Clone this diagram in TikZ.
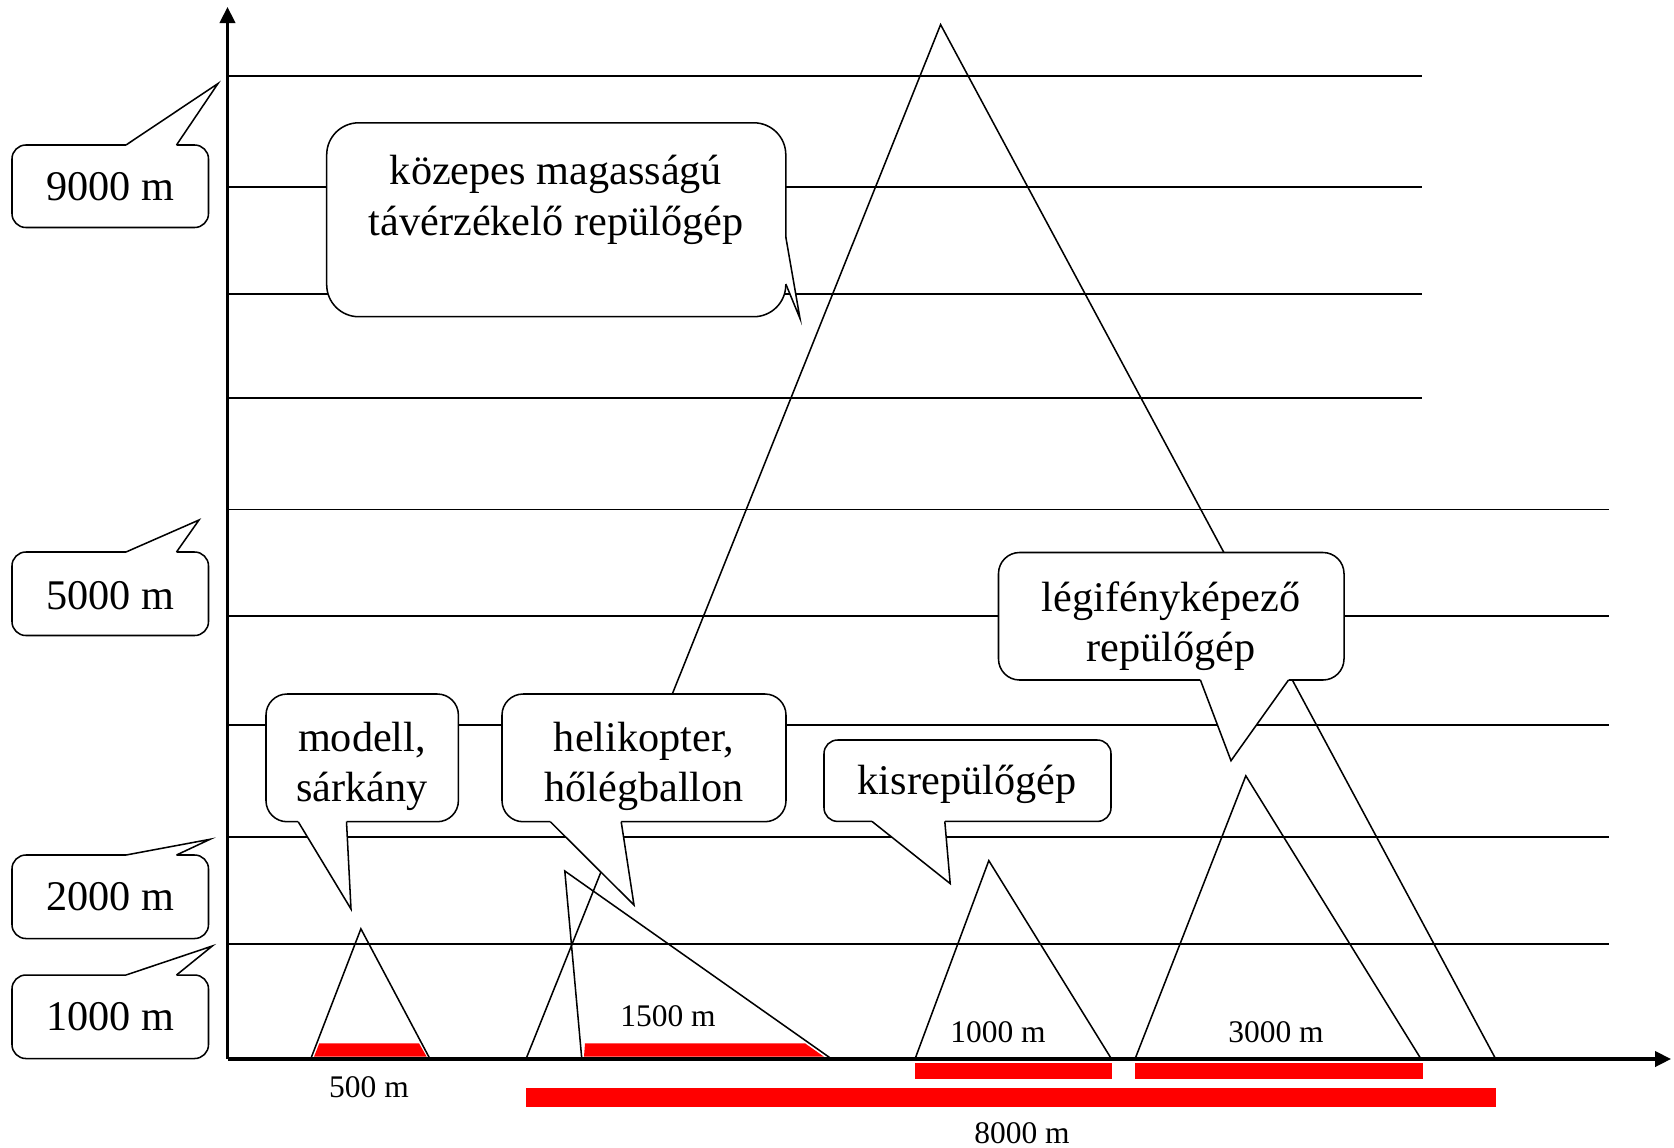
\documentclass[tikz,border=0pt]{standalone}
\usepackage{fontspec}
\setmainfont{Liberation Serif}
\usetikzlibrary{arrows.meta,calc}

% rounded box with a pointed tail:
% #1 top-left corner, #2 bottom-right corner, #3 corner radius,
% #4 first tail base point, #5 tail tip, #6 second tail base point,
% #7 small shift pointing into the box (used to hide the border under the tail)
\newcommand\callout[7]{%
  \draw[outline, fill=white, rounded corners=#3] #1 rectangle #2;
  \fill[white] ($#4+#7$) -- #4 -- #5 -- #6 -- ($#6+#7$) -- cycle;
  \draw[outline] #4 -- #5 -- #6;
}

\begin{document}
\begin{tikzpicture}[x=0.75pt,y=-0.75pt,
  gridline/.style={line width=1.2pt, black},
  outline/.style={line width=1.15pt, black},
  axisline/.style={line width=2.3pt, black, -{Triangle[length=12pt,width=11.5pt]}},
  bandfill/.style={fill=red},
  bigtext/.style={font=\fontsize{31.7pt}{38pt}\selectfont, inner sep=0pt, anchor=base},
  smalltext/.style={font=\fontsize{23.6pt}{28pt}\selectfont, inner sep=0pt, anchor=base}]

\useasboundingbox (0,0) rectangle (1674,1147);

% altitude lines, 1000 m apart
\foreach \yy in {75.8,186.8,293.8,398.2}
  \draw[gridline] (227.5,\yy) -- (1422,\yy);
\foreach \yy in {509.6,616,724.9,837,943.8}
  \draw[gridline] (227.5,\yy) -- (1609,\yy);

% footprint triangles of the platforms
\coordinate (mA) at (360.9,928.8);  \coordinate (mL) at (310.7,1059); \coordinate (mR) at (430,1059);
\coordinate (hA) at (564.8,871);    \coordinate (hL) at (581.8,1059); \coordinate (hR) at (831.7,1059);
\coordinate (kA) at (988.8,860.6);  \coordinate (kL) at (915,1059);   \coordinate (kR) at (1111.5,1059);
\coordinate (lA) at (1245.8,775.8); \coordinate (lL) at (1135,1059);  \coordinate (lR) at (1421,1059);
\coordinate (bA) at (940.6,24.6);   \coordinate (bL) at (526,1059);   \coordinate (bR) at (1495.7,1059);

\draw[outline] (bL) -- (bA) -- (bR);
\draw[outline] (mL) -- (mA) -- (mR);
\draw[outline] (hL) -- (hA) -- (hR);
\draw[outline] (kL) -- (kA) -- (kR);
\draw[outline] (lL) -- (lA) -- (lR);

% covered ground widths
\fill[bandfill] (314,1056.7) -- (319.3,1043.3) -- (419,1043.3) -- (426.7,1056.7) -- cycle;
\fill[bandfill] (584,1056.7) -- (585,1043.3) -- (805,1043.3) -- (824,1056.7) -- cycle;
\fill[bandfill] (915,1062.5) rectangle (1112,1078.5);
\fill[bandfill] (1135,1062.5) rectangle (1423,1078.5);
\fill[bandfill] (526,1088) rectangle (1496,1106.5);

% axes
\coordinate (origin) at (227.5,1059);
\coordinate (ytip) at (227.5,7);
\coordinate (xtip) at (1671,1059);
\draw[axisline] (origin) -- (ytip);
\draw[axisline] (origin) -- (xtip);

% altitude labels
\callout{(12,145)}{(208.5,227.5)}{10.4pt}{(126,145)}{(218,83.5)}{(176.5,145)}{(0,3)}
\callout{(12,552)}{(208.5,635.5)}{10.4pt}{(126,552)}{(199,520)}{(176.5,552)}{(0,3)}
\callout{(12,855)}{(208.5,938.5)}{10.4pt}{(126,855)}{(210,839.3)}{(176.5,855)}{(0,3)}
\callout{(12,975)}{(208.5,1058.5)}{10.4pt}{(126,975)}{(212.3,946)}{(176.5,975)}{(0,3)}

% platform callouts
\callout{(326.7,122.8)}{(785.8,316.7)}{24pt}{(785.8,237)}{(800,318.5)}{(785.8,284)}{(-3,0)}
\callout{(266,694)}{(458.4,821.7)}{15.8pt}{(298.2,821.7)}{(351,909)}{(346.5,821.7)}{(0,-3)}
\callout{(502,694)}{(786,821.7)}{15.8pt}{(550.3,821.7)}{(634,905)}{(621.2,821.7)}{(0,-3)}
\callout{(824,740)}{(1111,821.4)}{10.2pt}{(872,821.4)}{(950.2,883.6)}{(944.8,821.4)}{(0,-3)}
\callout{(998.5,552.5)}{(1344,680)}{15.8pt}{(1200.4,680)}{(1231,760.7)}{(1288.5,680)}{(0,-3)}

\node[bigtext] (lab9) at (110,200) {9000 m};
\node[bigtext] (lab5) at (110,609) {5000 m};
\node[bigtext] (lab2) at (110,910.7) {2000 m};
\node[bigtext] (lab1) at (110,1030.7) {1000 m};

\node[bigtext] (kozepA) at (556,184) {közepes magasságú};
\node[bigtext] (kozepB) at (556,235) {távérzékelő repülőgép};
\node[bigtext] (modA) at (362,751.5) {modell,};
\node[bigtext] (modB) at (362,801) {sárkány};
\node[bigtext] (heliA) at (644,751.5) {helikopter,};
\node[bigtext] (heliB) at (644,801) {hőlégballon};
\node[bigtext] (kis) at (967,794) {kisrepülőgép};
\node[bigtext] (legiA) at (1171,611) {légifényképező};
\node[bigtext] (legiB) at (1171,661) {repülőgép};

\node[smalltext] (w500) at (369,1097) {500 m};
\node[smalltext] (w1500) at (668,1026.5) {1500 m};
\node[smalltext] (w1000) at (998,1042) {1000 m};
\node[smalltext] (w3000) at (1276,1042.5) {3000 m};
\node[smalltext] (w8000) at (1022,1143) {8000 m};
\end{tikzpicture}
\end{document}
